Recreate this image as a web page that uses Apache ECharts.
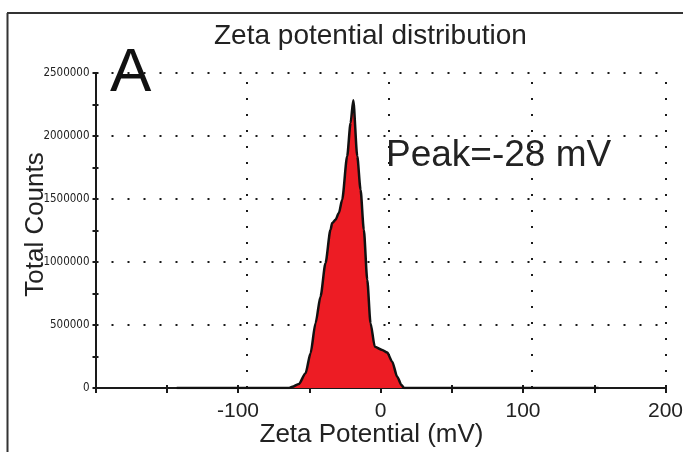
<!DOCTYPE html>
<html>
<head>
<meta charset="utf-8">
<script src="https://cdn.jsdelivr.net/npm/echarts@6/dist/echarts.min.js"></script>
<style>
html,body{margin:0;padding:0;background:#fff;}
#chart{width:683px;height:452px;}
</style>
</head>
<body>
<div id="chart"></div>
<script>
// Data
const zetaMV = [-143, -64, -61.9, -57.3, -52.6, -49.1, -45.6, -42.1, -38.6, -35.1, -33.9, -31.6, -29.2, -26.9, -23.4, -21.0, -19.1, -16.3, -14.0, -11.7, -9.3, -7.0, -4.0, 1.2, 4.7, 8.2, 11.7, 14.7, 16.5, 153];
const totalCounts = [0, 0, 10000, 32000, 117000, 276000, 514000, 726000, 991000, 1256000, 1309000, 1335000, 1389000, 1494000, 1839000, 2104000, 2284000, 1839000, 1574000, 1256000, 859000, 514000, 328000, 302000, 281000, 209000, 90000, 24000, 0, 0];
const xGridValues = [-94, 6, 106, 200];
const xLabelValues = [-100, 0, 100, 200];
const titleText = 'Zeta potential distribution';
const xName = 'Zeta Potential (mV)';
const yName = 'Total Counts';
const panelLetter = 'A';
const peakText = 'Peak=-28 mV';

const ink = '#1a1a1a';
const dotted = [2, 14];
const sans = 'Liberation Sans, Arial, sans-serif';
const narrow = 'Liberation Sans Narrow, Arial Narrow, DejaVu Sans Condensed, sans-serif';
const chart = echarts.init(document.getElementById('chart'), null, {renderer: 'canvas'});
const gridBox = {left: 95.5, right: 17.5, top: 73, bottom: 64, containLabel: false, outerBoundsMode: 'none'};

chart.setOption({
  animation: false,
  backgroundColor: '#fff',
  title: {
    text: titleText, left: 209, top: 17,
    textStyle: {fontFamily: sans, fontSize: 28, fontWeight: 'normal', color: '#222'}
  },
  grid: [Object.assign({}, gridBox), Object.assign({}, gridBox)],
  xAxis: [{
    type: 'value', gridIndex: 0, min: -200, max: 200, interval: 50,
    name: xName, nameLocation: 'middle', nameGap: 34, nameMoveOverlap: false,
    nameTextStyle: {fontFamily: sans, fontSize: 26, color: '#222', padding: [0, 18, 0, 0]},
    axisLine: {onZero: false, lineStyle: {color: ink, width: 2}},
    axisTick: {show: true, length: 5, lineStyle: {color: ink, width: 2}},
    axisLabel: {
      margin: 13, fontFamily: sans, fontSize: 21, color: '#222',
      formatter: v => (xLabelValues.indexOf(v) >= 0 ? String(v) : '')
    },
    splitLine: {show: false}
  }, {
    type: 'value', gridIndex: 1, min: -200, max: 200, interval: 50,
    axisLine: {show: false, onZero: false}, axisLabel: {show: false}, splitLine: {show: false},
    axisTick: {show: true, inside: true, length: 3, lineStyle: {color: ink, width: 2}}
  }],
  yAxis: [{
    type: 'value', gridIndex: 0, min: 0, max: 2500000, interval: 500000,
    name: yName, nameLocation: 'middle', nameGap: 47, nameRotate: 90, nameMoveOverlap: false,
    nameTextStyle: {fontFamily: sans, fontSize: 26, color: '#222', padding: [0, 0, 0, 12]},
    axisLine: {show: true, onZero: false, lineStyle: {color: ink, width: 2}},
    axisTick: {show: true, length: 3, lineStyle: {color: ink, width: 2}},
    minorTick: {show: true, splitNumber: 2, length: 3, lineStyle: {color: ink, width: 2}},
    axisLabel: {margin: 6, fontFamily: narrow, fontSize: 11.5, color: '#222', formatter: v => String(v)},
    splitLine: {show: true, lineStyle: {color: ink, width: 2, type: dotted}}
  }, {
    type: 'value', gridIndex: 1, min: 0, max: 2500000, interval: 500000,
    axisLine: {show: false, onZero: false}, axisLabel: {show: false}, splitLine: {show: false},
    axisTick: {show: true, inside: true, length: 3, lineStyle: {color: ink, width: 2}},
    minorTick: {show: true, splitNumber: 2, length: 3, lineStyle: {color: ink, width: 2}}
  }],
  series: [{
    type: 'line', xAxisIndex: 0, yAxisIndex: 0,
    data: zetaMV.map((x, i) => [x, totalCounts[i]]),
    showSymbol: false, symbol: 'none',
    smooth: 0.25, smoothMonotone: 'x',
    lineStyle: {color: '#111', width: 2.5},
    areaStyle: {color: '#ed1c24', opacity: 1},
    z: 3,
    markLine: {
      silent: true, symbol: 'none', label: {show: false},
      lineStyle: {color: ink, width: 2, type: dotted},
      data: xGridValues.map(v => ({xAxis: v})),
      z: 1
    }
  }],
  graphic: [
    {type: 'line', shape: {x1: 7, y1: 13, x2: 683, y2: 13}, style: {stroke: '#333', lineWidth: 2}, silent: true},
    {type: 'line', shape: {x1: 7.5, y1: 13, x2: 7.5, y2: 452}, style: {stroke: '#333', lineWidth: 2}, silent: true},
    {type: 'text', left: 110, top: 43, style: {text: panelLetter, fontFamily: sans, fontSize: 62, fill: '#111'}, z: 10},
    {type: 'text', left: 386, top: 137, style: {text: peakText, fontFamily: sans, fontSize: 37, fill: '#222'}, z: 10}
  ]
});
</script>
</body>
</html>
